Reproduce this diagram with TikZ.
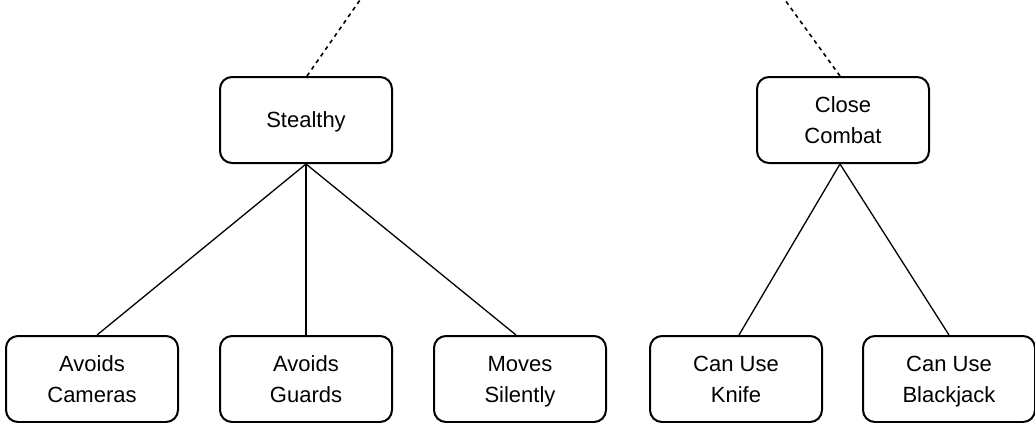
\documentclass[tikz,border=0pt]{standalone}
\usepackage{fontspec}
\setmainfont{Liberation Sans}
\usepackage{tikz}
\usetikzlibrary{positioning,calc}
\tikzstyle{skill}=[rectangle, rounded corners=6pt, draw=black, line width=1pt, minimum width=86pt, minimum height=43pt, align=center, font=\fontsize{11}{15.5}\selectfont, text depth=0pt]
\tikzstyle{link}=[line width=0.65pt]
\tikzstyle{up}=[line width=0.8pt, dash pattern=on 2pt off 2pt]

\begin{document}
\begin{tikzpicture}[x=0.5pt, y=-0.5pt]
				\useasboundingbox (0,0) rectangle (1035,423);
				\node[skill](S)at(306,120){Stealthy};
				\node[skill](CC)at(843,120){Close\\Combat};
				\node[skill](AC)at(92,379){Avoids\\Cameras};
				\node[skill](AG)at(306,379){Avoids\\Guards};
				\node[skill](MS)at(520,379){Moves\\Silently};
				\node[skill](K)at(736,379){Can Use\\Knife};
				\node[skill](B)at(949,379){Can Use\\Blackjack};
				\coordinate(Stop)at(360,0);
				\coordinate(CCtop)at(785,0);
				\draw[up]($(S.north)+(1,0)$)--(Stop);
				\draw[up]($(CC.north)+(-3,0)$)--(CCtop);
				\draw[link](S.south)--($(AC.north)+(5,0)$);
				\draw[link](S.south)--(AG.north);
				\draw[link](S.south)--($(MS.north)+(-4,0)$);
				\draw[link]($(CC.south)+(-3,0)$)--($(K.north)+(3,0)$);
				\draw[link]($(CC.south)+(-3,0)$)--(B.north);
			\end{tikzpicture}
\end{document}
